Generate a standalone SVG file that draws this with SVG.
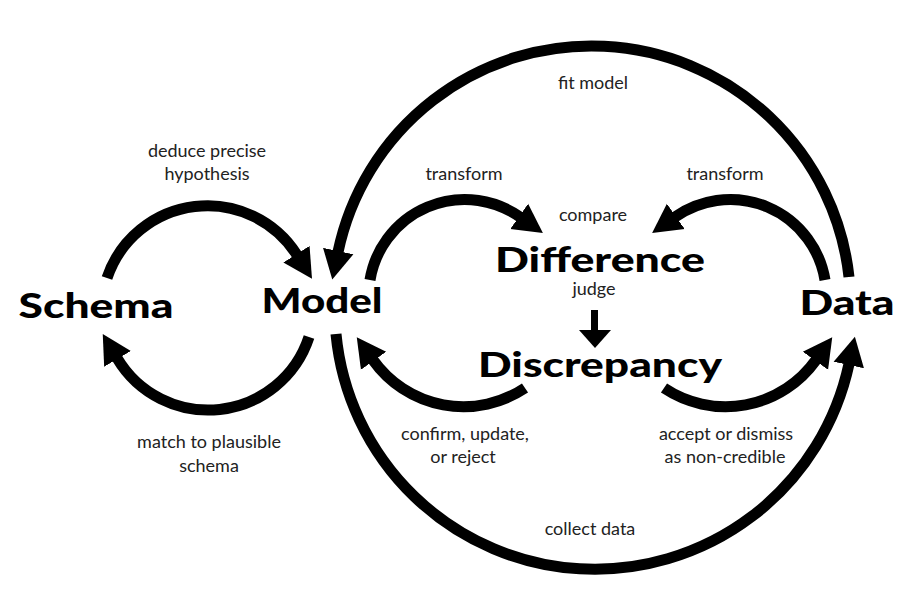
<svg xmlns="http://www.w3.org/2000/svg" width="912" height="591" viewBox="0 0 912 591">
<defs>
<style>
.bg{fill:#ffffff}
.node{font-family:Lato,"Open Sans","Liberation Sans",sans-serif;font-weight:900;font-size:35px;fill:#000;text-anchor:middle}
.lbl{font-family:Lato,"Open Sans","Liberation Sans",sans-serif;font-size:18px;fill:#222;text-anchor:middle}
.arc{fill:none;stroke:#000;stroke-width:11;stroke-linecap:butt;marker-end:url(#ah)}
</style>
<marker id="ah" markerUnits="userSpaceOnUse" viewBox="0 -16 30 32" markerWidth="30" markerHeight="32" refX="1" refY="0" orient="auto">
<path d="M0,-15.5 L29,0 L0,15.5 z" fill="#000"/>
</marker>
</defs>
<rect class="bg" x="0" y="0" width="912" height="591"/>
<g id="connectors">
<g id="c-deduce">
<path class="arc" d="M107,278 A106,106 0 0 1 297,255"/>
<text class="lbl" x="207" y="157">deduce precise</text>
<text class="lbl" x="207" y="180">hypothesis</text>
</g>
<g id="c-match">
<path class="arc" d="M309,337 A106,106 0 0 1 117,358"/>
<text class="lbl" x="209" y="448">match to plausible</text>
<text class="lbl" x="209" y="472">schema</text>
</g>
<g id="c-fit">
<path class="arc" d="M849,277 A259,259 0 0 0 338,252"/>
<text class="lbl" x="593" y="89">fit model</text>
</g>
<g id="c-collect">
<path class="arc" d="M336,334 A260,260 0 0 0 849,364"/>
<text class="lbl" x="590" y="535">collect data</text>
</g>
<g id="c-transform-model">
<path class="arc" d="M370,280 A96,96 0 0 1 520,217"/>
<text class="lbl" x="464" y="180">transform</text>
</g>
<g id="c-transform-data">
<path class="arc" d="M825,280 A96,96 0 0 0 675,217"/>
<text class="lbl" x="725" y="180">transform</text>
</g>
<g id="c-compare">
<text class="lbl" x="593" y="221">compare</text>
</g>
<g id="c-judge">
<text class="lbl" x="594" y="295">judge</text>
<rect x="591" y="310" width="7" height="21" fill="#000"/>
<polygon points="579,330 611,330 595,348" fill="#000"/>
</g>
<g id="c-confirm">
<path class="arc" d="M525,388 A111,111 0 0 1 373,360"/>
<text class="lbl" x="465" y="440">confirm, update,</text>
<text class="lbl" x="463" y="463">or reject</text>
</g>
<g id="c-accept">
<path class="arc" d="M664,388 A111,111 0 0 0 816,360"/>
<text class="lbl" x="726" y="440">accept or dismiss</text>
<text class="lbl" x="725" y="463">as non-credible</text>
</g>
</g>
<g id="node-schema"><text class="node" x="96" y="318" textLength="155" lengthAdjust="spacingAndGlyphs">Schema</text></g>
<g id="node-model"><text class="node" x="322" y="313" textLength="121" lengthAdjust="spacingAndGlyphs">Model</text></g>
<g id="node-difference"><text class="node" x="600" y="272" textLength="210" lengthAdjust="spacingAndGlyphs">Difference</text></g>
<g id="node-discrepancy"><text class="node" x="600" y="377" textLength="244" lengthAdjust="spacingAndGlyphs">Discrepancy</text></g>
<g id="node-data"><text class="node" x="847" y="315" textLength="95" lengthAdjust="spacingAndGlyphs">Data</text></g>
</svg>
